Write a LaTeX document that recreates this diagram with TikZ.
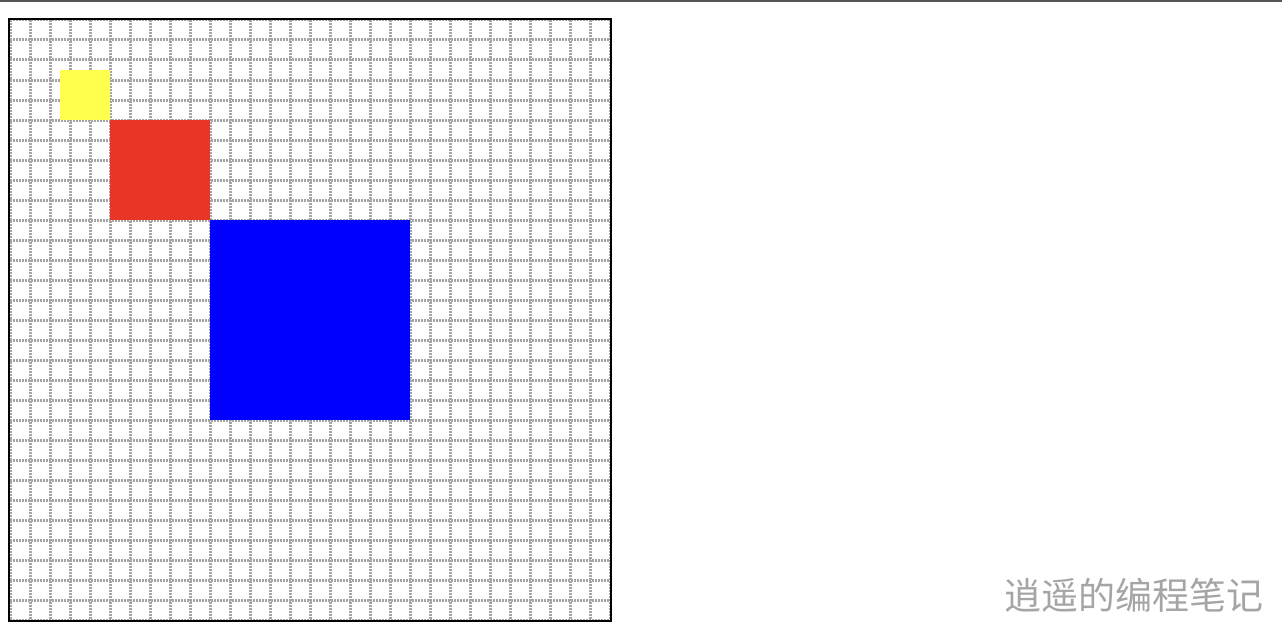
\documentclass[tikz,border=0pt]{standalone}
\usepackage{fontspec}
\newfontfamily\cjk{Noto Sans CJK SC}
\usepackage{xcolor}
\usepackage{tikz}
\usetikzlibrary{positioning}

\definecolor{gridgray}{RGB}{165,165,165}
\definecolor{topgray}{RGB}{85,85,85}
\definecolor{sqyellow}{RGB}{255,255,77}
\definecolor{sqred}{RGB}{233,53,38}
\definecolor{sqblue}{RGB}{0,0,255}
\definecolor{markgray}{RGB}{165,165,165}

\begin{document}
\begin{tikzpicture}[
        x=1pt, y=-1pt,
        gridline/.style={draw=gridgray, line width=3pt, dash pattern=on 2pt off 1pt},
        frame/.style={draw=black, line width=2pt},
        square/.style={draw=none}
    ]
    \useasboundingbox (0,0) rectangle (1282,634);

    % top rule
    \fill[topgray] (0,0) rectangle (1282,2);

    % canvas grid
    \foreach \k in {0,20,...,600} {
        \draw[gridline] (10+\k,20) -- (10+\k,620);
        \draw[gridline] (10,20+\k) -- (610,20+\k);
    }

    % squares
    \fill[sqyellow] (60,70) rectangle (110,120);
    \fill[sqred] (110,120) rectangle (210,220);
    \fill[sqblue] (210,220) rectangle (410,420);

    % canvas frame
    \draw[frame] (9,19) rectangle (611,621);

    % watermark
    \node (mark) [anchor=east, inner sep=0pt, text=markgray] at (1264,595)
        {\fontsize{37}{42}\selectfont\cjk 逍遥的编程笔记};
\end{tikzpicture}
\end{document}
